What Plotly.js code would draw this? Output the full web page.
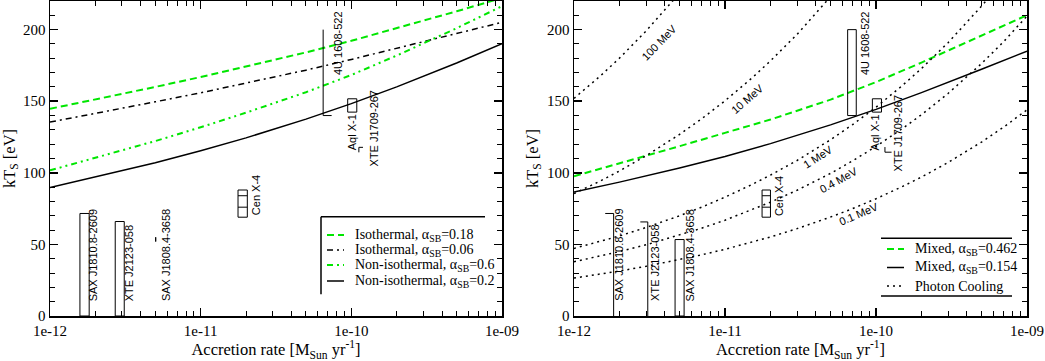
<!DOCTYPE html>
<html>
<head>
<meta charset="utf-8">
<script src="https://cdn.plot.ly/plotly-3.0.1.min.js"></script>
<style>
  html, body { margin: 0; padding: 0; background: #fff; }
  #plot { width: 1045px; height: 361px; }
</style>
</head>
<body>
<div id="plot"></div>
<script>
// accretion rate grid (Msun/yr) for the model curves
var mdot = [1e-12, 2e-12, 5e-12, 1e-11, 2e-11, 5e-11, 1e-10, 2e-10, 5e-10, 1e-9];

// left panel: kT_s [eV]
var isoA018    = [144.7, 151.2, 160.0, 166.9, 174.1, 184.1, 192.2, 200.9, 212.8, 222.1];
var isoA006    = [135.4, 141.4, 149.6, 155.9, 162.5, 171.7, 179.2, 187.0, 197.3, 205.1];
var nonIsoA06  = [101.7, 110.3, 122.2, 131.8, 142.0, 156.3, 168.3, 181.9, 201.0, 216.4];
var nonIsoA02  = [89.7, 97.0, 107.1, 115.4, 124.4, 137.5, 148.3, 160.0, 176.7, 190.2];

// right panel
var mixedA0462 = [97.6, 106.5, 118.6, 127.9, 137.2, 151.1, 163.4, 177.0, 195.7, 210.1];
var mixedA0154 = [86.6, 93.5, 103.3, 111.4, 120.4, 133.5, 144.3, 156.0, 172.3, 185.0];

// photon cooling curves, read on a finer grid
var coolMdot   = [1e-12, 1.5e-12, 2e-12, 3e-12, 5e-12, 7e-12, 1e-11, 1.5e-11, 2e-11, 3e-11,
                  5e-11, 7e-11, 1e-10, 1.5e-10, 2e-10, 3e-10, 5e-10, 7e-10, 1e-9];
var cool01MeV  = [26.5, 29.3, 31.4, 34.7, 39.3, 42.7, 46.6, 51.5, 55.2, 61.0,
                  69.1, 75.0, 81.9, 90.5, 97.0, 107.2, 121.5, 131.9, 144.0];
var cool04MeV  = [37.9, 41.9, 45.0, 49.7, 56.4, 61.3, 66.9, 74.0, 79.5, 87.8,
                  99.6, 108.4, 118.4, 131.0, 140.6, 155.4, 176.3, 191.6, 209.5];
var cool1MeV   = [47.2, 52.1, 55.9, 61.8, 70.0, 76.0, 83.0, 91.7, 98.4, 108.6,
                  123.1, 133.7, 145.8, 161.1, 172.8, 190.9, 216.4, 234.9];
var cool10MeV  = [85.5, 94.4, 101.3, 111.9, 126.8, 137.7, 150.3, 166.0, 178.2, 196.7, 223.0];
var cool100MeV = [152, 167.8, 180.1, 199.0, 225.4];
var coolLabels = ["0.1 MeV", "0.4 MeV", "1 MeV", "10 MeV", "100 MeV"];

// observed sources
var sources = ["SAX J1810.8-2609", "XTE J2123-058", "SAX J1808.4-3658", "Cen X-4",
               "4U 1608-522", "Aql X-1", "XTE J1709-267"];
var leftMdotMin  = [1.58e-12, 2.71e-12, 5.03e-12, 1.77e-11, 6.5e-11, 9.46e-11, 1.122e-10];
var leftMdotMax  = [1.82e-12, 3.11e-12, 5.03e-12, 2.04e-11, 7.4e-11, 1.087e-10, 1.195e-10];
var leftKtMin    = [0, 0, 52, 69, 140, 142.4, 114.3];
var leftKtMax    = [71.6, 66, 55, 88, 200, 151.7, 117.8];
var rightMdotMin = [1.61e-12, 2.75e-12, 4.67e-12, 1.76e-11, 6.49e-11, 9.46e-11, 1.146e-10];
var rightMdotMax = [1.83e-12, 3.08e-12, 5.36e-12, 2.0e-11, 7.4e-11, 1.087e-10, 1.268e-10];
var rightKtMin   = [0, 0, 0, 69, 140, 142.4, 114.4];
var rightKtMax   = [71.6, 65.7, 53.4, 88, 200, 151.7, 118];
var cenX4Steps   = [76, 84];

var xTickVals = [1e-12, 1e-11, 1e-10, 1e-9];
var xTickText = ["1e-12", "1e-11", "1e-10", "1e-09"];

// ---- page geometry
var W = 1045, H = 361, M = {l: 0, r: 0, t: 1, b: 45};
function pxX(px) { return (px - M.l) / (W - M.l - M.r); }
function pxY(py) { return (H - M.b - py) / (H - M.t - M.b); }

var green = 'rgb(0,230,0)';
var serif = 'Liberation Serif';
var sans = 'Liberation Sans';

// line styles
var S = {
  isoA018:    {color: green, dash: '7px,4px', width: 2},
  isoA006:    {color: 'black', dash: '6px,4px,2px,4px', width: 1.5},
  nonIsoA06:  {color: green, dash: '6px,4px,2px,4px,2px,4px', width: 2},
  nonIsoA02:  {color: 'black', dash: 'solid', width: 1.5},
  mixedA0462: {color: green, dash: '7px,4px', width: 2},
  mixedA0154: {color: 'black', dash: 'solid', width: 1.5},
  cool:       {color: 'black', dash: '2px,4px', width: 1.5}
};

function curve(x, y, style, xa, ya) {
  return {x: x, y: y, mode: 'lines', xaxis: xa, yaxis: ya, line: style,
          showlegend: false, hoverinfo: 'skip'};
}

var data = [
  curve(mdot, isoA018, S.isoA018, 'x', 'y'),
  curve(mdot, isoA006, S.isoA006, 'x', 'y'),
  curve(mdot, nonIsoA06, S.nonIsoA06, 'x', 'y'),
  curve(mdot, nonIsoA02, S.nonIsoA02, 'x', 'y'),
  curve(mdot, mixedA0462, S.mixedA0462, 'x2', 'y2'),
  curve(mdot, mixedA0154, S.mixedA0154, 'x2', 'y2'),
  curve(coolMdot, cool01MeV, S.cool, 'x2', 'y2'),
  curve(coolMdot, cool04MeV, S.cool, 'x2', 'y2'),
  curve(coolMdot.slice(0, cool1MeV.length), cool1MeV, S.cool, 'x2', 'y2'),
  curve(coolMdot.slice(0, cool10MeV.length), cool10MeV, S.cool, 'x2', 'y2'),
  curve(coolMdot.slice(0, cool100MeV.length), cool100MeV, S.cool, 'x2', 'y2')
];

// ---- source boxes and labels
var shapes = [];
var annotations = [];
var boxLine = {color: 'black', width: 1};

function seg(xr, yr, x0, x1, y0, y1) {
  shapes.push({type: 'line', xref: xr, yref: yr, x0: x0, x1: x1, y0: y0, y1: y1, line: boxLine});
}

// sides: which edges of a box are drawn (l, r, t, b); default is all four
function addSources(xr, yr, mMin, mMax, kMin, kMax, labelX, labelY, sides) {
  for (var i = 0; i < sources.length; i++) {
    var sd = sides[i] || 'lrtb';
    if (sd.indexOf('l') >= 0) seg(xr, yr, mMin[i], mMin[i], kMin[i], kMax[i]);
    if (sd.indexOf('r') >= 0) seg(xr, yr, mMax[i], mMax[i], kMin[i], kMax[i]);
    if (sd.indexOf('t') >= 0) seg(xr, yr, mMin[i], mMax[i], kMax[i], kMax[i]);
    if (sd.indexOf('b') >= 0) seg(xr, yr, mMin[i], mMax[i], kMin[i], kMin[i]);
    if (sources[i] === 'Cen X-4') {
      cenX4Steps.forEach(function (k) { seg(xr, yr, mMin[i], mMax[i], k, k); });
    }
    annotations.push({xref: xr, yref: yr, x: labelX[i], y: labelY[i], text: sources[i],
                      textangle: -90, showarrow: false, xanchor: 'center', yanchor: 'bottom',
                      font: {family: sans, size: 11, color: 'black'}});
  }
}

// label anchors (log10 of accretion rate, kT at the bottom of the text)
addSources('x', 'y', leftMdotMin, leftMdotMax, leftKtMin, leftKtMax,
           [-11.713, -11.474, -11.23, -10.633, -10.089, -9.996, -9.85],
           [9, 9, 9, 69, 166.8, 114.3, 103],
           {4: 'lb', 6: 'lt'});
addSources('x2', 'y2', rightMdotMin, rightMdotMax, rightKtMin, rightKtMax,
           [-11.704, -11.465, -11.229, -10.643, -10.076, -10.006, -9.854],
           [9, 9, 9, 68.3, 166.5, 114.3, 99.6],
           {0: 'rt', 1: 'rt', 6: 'lb'});

// photon cooling labels along the dotted curves
var coolLabelX = [-10.115, -10.247, -10.386, -10.854, -11.432];
var coolLabelY = [71.1, 94.8, 110.8, 151.7, 191.1];
var coolLabelAngle = [-23, -29, -33, -41, -46];
coolLabels.forEach(function (t, i) {
  annotations.push({xref: 'x2', yref: 'y2', x: coolLabelX[i], y: coolLabelY[i], text: t,
                    textangle: coolLabelAngle[i], showarrow: false,
                    font: {family: sans, size: 11, color: 'black'}});
});

// ---- legends, drawn in paper coordinates
function pline(x0, y0, x1, y1, style) {
  shapes.push({type: 'line', xref: 'paper', yref: 'paper', x0: pxX(x0), x1: pxX(x1), y0: pxY(y0), y1: pxY(y1),
               line: style || {color: 'black', width: 1.5}});
}
function legendEntry(x, y, style, text) {
  pline(x, y, x + 17, y, style);
  annotations.push({xref: 'paper', yref: 'paper', x: pxX(x + 26), y: pxY(y), xanchor: 'left', yanchor: 'middle',
                    text: text, showarrow: false, font: {family: serif, size: 14, color: 'black'}});
}
pline(321, 216.7, 485, 216.7);
pline(321, 216.7, 321, 294.3);
legendEntry(327, 235, S.isoA018, 'Isothermal, α<sub>SB</sub>=0.18');
legendEntry(327, 250, S.isoA006, 'Isothermal, α<sub>SB</sub>=0.06');
legendEntry(327, 265, S.nonIsoA06, 'Non-isothermal, α<sub>SB</sub>=0.6');
legendEntry(327, 281, S.nonIsoA02, 'Non-isothermal, α<sub>SB</sub>=0.2');

pline(881, 238.3, 1012, 238.3);
pline(881, 296, 1012, 296);
legendEntry(887, 249, S.mixedA0462, 'Mixed, α<sub>SB</sub>=0.462');
legendEntry(887, 267.5, S.mixedA0154, 'Mixed, α<sub>SB</sub>=0.154');
legendEntry(887, 286, S.cool, 'Photon Cooling');

function xAxis(domain, anchor) {
  return {
    type: 'log', range: [-12, -9], domain: domain, anchor: anchor,
    showline: true, linecolor: 'black', linewidth: 1.5, mirror: 'ticks',
    ticks: 'inside', ticklen: 8, tickwidth: 1.5, tickcolor: 'black',
    tickmode: 'array', tickvals: xTickVals, ticktext: xTickText,
    tickfont: {family: serif, size: 15, color: 'black'},
    minor: {ticks: 'inside', ticklen: 5, tickwidth: 1, tickcolor: 'black', dtick: 'D1', showgrid: false},
    showgrid: false, zeroline: false,
    title: {text: 'Accretion rate [M<sub>Sun</sub> yr<sup>-1</sup>]', standoff: 5,
            font: {family: serif, size: 16.5, color: 'black'}}
  };
}
function yAxis(domain, anchor) {
  return {
    range: [0, 220], domain: domain, anchor: anchor,
    showline: true, linecolor: 'black', linewidth: 1.5, mirror: 'ticks',
    ticks: 'inside', ticklen: 8, tickwidth: 1.5, tickcolor: 'black',
    tick0: 0, dtick: 50,
    tickfont: {family: serif, size: 15, color: 'black'},
    minor: {ticks: 'inside', ticklen: 5, tickwidth: 1, tickcolor: 'black', dtick: 10, showgrid: false},
    showgrid: false, zeroline: false,
    title: {text: 'kT<sub>S</sub> [eV]', standoff: 4, font: {family: serif, size: 16.5, color: 'black'}}
  };
}

var layout = {
  width: W, height: H, margin: M,
  font: {family: serif, color: 'black'},
  paper_bgcolor: 'white', plot_bgcolor: 'white',
  showlegend: false,
  xaxis: xAxis([pxX(50), pxX(502)], 'y'),
  yaxis: yAxis([0, 1], 'x'),
  xaxis2: xAxis([pxX(574), pxX(1027)], 'y2'),
  yaxis2: yAxis([0, 1], 'x2'),
  shapes: shapes,
  annotations: annotations
};

Plotly.newPlot('plot', data, layout, {displayModeBar: false, staticPlot: true});
</script>
</body>
</html>
